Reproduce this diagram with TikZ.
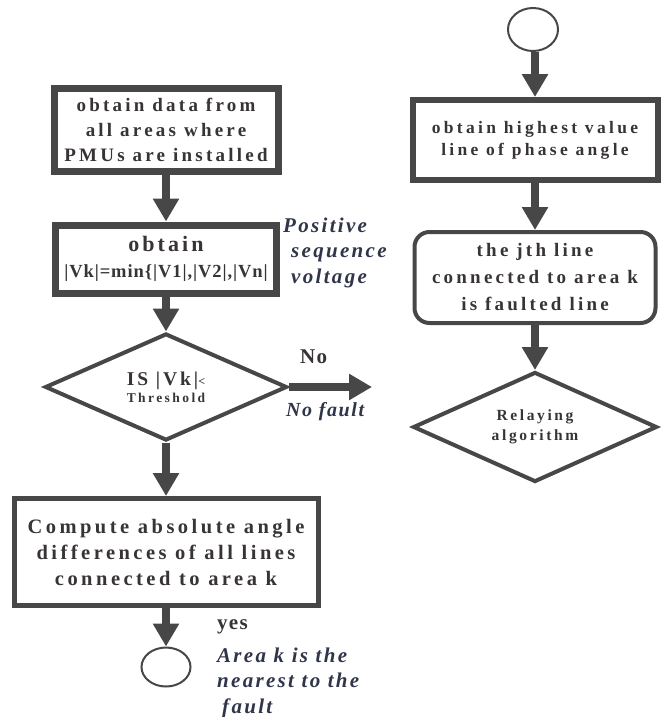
\documentclass[tikz,border=0pt]{standalone}
\usepackage{fontspec}
\setmainfont{Liberation Serif}
\usetikzlibrary{arrows.meta,shapes.geometric}
\definecolor{ln}{HTML}{474747}
\definecolor{tx}{HTML}{383434}
\definecolor{itc}{HTML}{30354A}
\newcommand\fsz[2]{\fontsize{#1}{#2}\selectfont}
\newcommand\lsp[1]{\addfontfeatures{LetterSpace=#1}}
\begin{document}
\begin{tikzpicture}[x=1pt,y=-1pt,
  box/.style={draw=ln, rectangle, text=tx, align=center, inner sep=0pt},
  dia/.style={draw=ln, diamond, aspect=2.2, text=tx, align=center, line width=4pt, inner sep=0pt},
  term/.style={draw=ln, ellipse, line width=2pt, inner sep=0pt},
  arr/.style={draw=ln, line width=8pt, -{Triangle[width=25pt,length=23pt]}},
  lbl/.style={text=itc, anchor=base west, align=left, inner sep=0pt,
    font=\bfseries\itshape\fsz{21}{25.5}\lsp{11}},
  yn/.style={text=tx, anchor=base west, inner sep=0pt, font=\bfseries\fsz{21}{24}\lsp{6}}
]
\path[fill=white, use as bounding box] (0,0) rectangle (667,717);

% left column
\node[box, line width=7pt, minimum width=224pt, minimum height=83pt,
  font=\bfseries\fsz{19}{25}\lsp{17}] (b1) at (166,130)
  {obtain data from\\all areas where\\PMUs are installed};
\node[box, line width=7pt, minimum width=221pt, minimum height=68pt,
  font=\bfseries\fsz{18.5}{26}\lsp{5}] (b2) at (166,259)
  {{\fsz{22}{26}\lsp{14}obtain}\\|Vk|=min\{|V1|,|V2|,|Vn|};
\node[dia, minimum width=242pt, minimum height=107pt,
  font=\bfseries\fsz{13.5}{17}\lsp{18}] (d1) at (166,387)
  {{\fsz{19.5}{17}\lsp{15}IS |Vk|{\fsz{12}{17}<}}\\Threshold};
\node[box, line width=5pt, minimum width=304pt, minimum height=107pt,
  font=\bfseries\fsz{20.5}{26}\lsp{17}] (b3) at (166,552)
  {Compute absolute angle\\differences of all lines\\connected to area k};
\node[term, minimum width=49pt, minimum height=39pt] (c1) at (166,667) {};

% right column
\node[term, minimum width=50pt, minimum height=43pt] (c2) at (533,29.5) {};
\node[box, line width=6pt, minimum width=245pt, minimum height=80pt,
  font=\bfseries\fsz{17.5}{22}\lsp{19}] (b4) at (535,140)
  {obtain highest value\\line of phase angle};
\node[box, line width=4pt, rounded corners=15pt, minimum width=241pt, minimum height=91pt,
  font=\bfseries\fsz{19}{27}\lsp{17}] (b5) at (535,277.5)
  {the jth line\\connected to area k\\is faulted line};
\node[dia, minimum width=244pt, minimum height=110pt,
  font=\bfseries\fsz{15.5}{20}\lsp{17}] (d2) at (535,427)
  {Relaying\\algorithm};

\coordinate (noend) at (372,387);

% connectors
\draw[arr] (b1.south) -- (b2.north);
\draw[arr] (b2.south) -- (d1.north);
\draw[arr] (d1.south) -- (b3.north);
\draw[arr] (b3.south) -- (c1.north);
\draw[arr] (d1.east) -- (noend);
\draw[arr] (c2.south -| b4.north) -- (b4.north);
\draw[arr] (b4.south) -- (b5.north);
\draw[arr] (b5.south) -- (d2.north);

% labels (base anchor = baseline of the last line)
\node[lbl] (pos) at (283,283) {Positive\\\hspace*{8pt}sequence\\\hspace*{8pt}voltage};
\node[yn] (no) at (300,363) {No};
\node[lbl, font=\bfseries\itshape\fsz{20}{25}\lsp{8}] (nof) at (286,416) {No fault};
\node[yn] (yes) at (217,629) {yes};
\node[lbl] (area) at (217,713) {Area k is the\\nearest to the\\\hspace*{5pt}fault};
\end{tikzpicture}
\end{document}
